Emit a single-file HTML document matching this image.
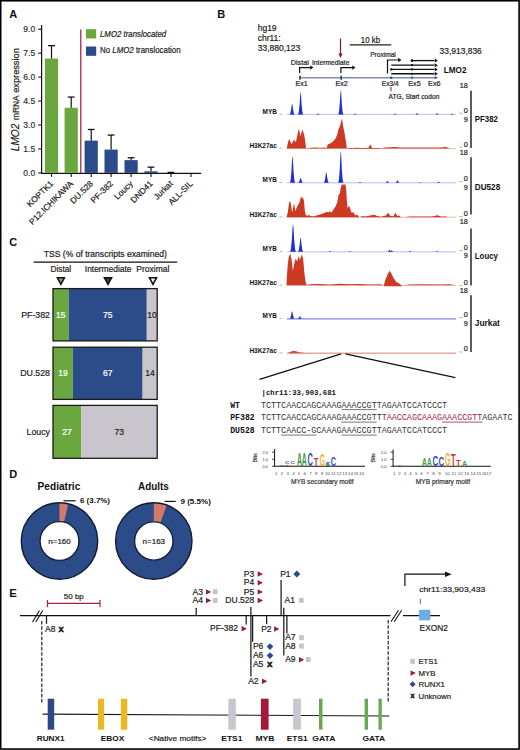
<!DOCTYPE html>
<html><head><meta charset="utf-8"><style>
html,body{margin:0;padding:0;background:#fff;width:520px;height:750px;overflow:hidden}
svg{display:block}
text{font-family:"Liberation Sans", sans-serif}
.mono{font-family:"Liberation Mono", monospace}
</style></head><body>
<svg width="520" height="750" viewBox="0 0 520 750">
<rect x="0" y="0" width="520" height="750" fill="#fff"/>
<text x="9.2" y="17.9" font-size="11" font-weight="bold" fill="#111" >A</text>
<line x1="41.6" y1="25" x2="41.6" y2="173.5" stroke="#111" stroke-width="1.2" />
<line x1="38.2" y1="172.9" x2="41.6" y2="172.9" stroke="#111" stroke-width="1.1" />
<text x="35.3" y="175.9" font-size="8.6" text-anchor="end" fill="#333" stroke="#333" stroke-width="0.2" >0.0</text>
<line x1="38.2" y1="148.95000000000002" x2="41.6" y2="148.95000000000002" stroke="#111" stroke-width="1.1" />
<text x="35.3" y="151.95000000000002" font-size="8.6" text-anchor="end" fill="#333" stroke="#333" stroke-width="0.2" >1.5</text>
<line x1="38.2" y1="125.0" x2="41.6" y2="125.0" stroke="#111" stroke-width="1.1" />
<text x="35.3" y="128.0" font-size="8.6" text-anchor="end" fill="#333" stroke="#333" stroke-width="0.2" >3.0</text>
<line x1="38.2" y1="101.05000000000001" x2="41.6" y2="101.05000000000001" stroke="#111" stroke-width="1.1" />
<text x="35.3" y="104.05000000000001" font-size="8.6" text-anchor="end" fill="#333" stroke="#333" stroke-width="0.2" >4.5</text>
<line x1="38.2" y1="77.10000000000001" x2="41.6" y2="77.10000000000001" stroke="#111" stroke-width="1.1" />
<text x="35.3" y="80.10000000000001" font-size="8.6" text-anchor="end" fill="#333" stroke="#333" stroke-width="0.2" >6.0</text>
<line x1="38.2" y1="53.150000000000006" x2="41.6" y2="53.150000000000006" stroke="#111" stroke-width="1.1" />
<text x="35.3" y="56.150000000000006" font-size="8.6" text-anchor="end" fill="#333" stroke="#333" stroke-width="0.2" >7.5</text>
<line x1="38.2" y1="29.200000000000017" x2="41.6" y2="29.200000000000017" stroke="#111" stroke-width="1.1" />
<text x="35.3" y="32.20000000000002" font-size="8.6" text-anchor="end" fill="#333" stroke="#333" stroke-width="0.2" >9.0</text>
<g transform="translate(18.5,152) rotate(-90)" fill="#222" stroke="#222" stroke-width="0.2"><text x="0.8" y="0" font-size="10.2" font-style="italic" textLength="27.6" lengthAdjust="spacingAndGlyphs">LMO2</text><text x="32.0" y="0" font-size="9.0" textLength="24.6" lengthAdjust="spacingAndGlyphs">mRNA</text><text x="59.2" y="0" font-size="9.2" textLength="44.6" lengthAdjust="spacingAndGlyphs">expression</text></g>
<line x1="41" y1="173.4" x2="201.2" y2="173.4" stroke="#111" stroke-width="1.2" />
<rect x="44.9" y="58.57866666666666" width="13.2" height="114.32133333333334" fill="#6aa83f" />
<line x1="51.5" y1="45.64566666666667" x2="51.5" y2="58.57866666666666" stroke="#111" stroke-width="1.2" />
<line x1="48.1" y1="45.64566666666667" x2="54.9" y2="45.64566666666667" stroke="#111" stroke-width="1.3" />
<line x1="51.5" y1="173.4" x2="51.5" y2="176.9" stroke="#111" stroke-width="1.1" />
<rect x="64.60000000000001" y="107.756" width="13.2" height="65.144" fill="#6aa83f" />
<line x1="71.2" y1="97.05833333333334" x2="71.2" y2="107.756" stroke="#111" stroke-width="1.2" />
<line x1="67.8" y1="97.05833333333334" x2="74.60000000000001" y2="97.05833333333334" stroke="#111" stroke-width="1.3" />
<line x1="71.2" y1="173.4" x2="71.2" y2="176.9" stroke="#111" stroke-width="1.1" />
<rect x="84.60000000000001" y="140.64733333333334" width="13.2" height="32.25266666666667" fill="#2b4b89" />
<line x1="91.2" y1="129.47066666666666" x2="91.2" y2="140.64733333333334" stroke="#111" stroke-width="1.2" />
<line x1="87.8" y1="129.47066666666666" x2="94.60000000000001" y2="129.47066666666666" stroke="#111" stroke-width="1.3" />
<line x1="91.2" y1="173.4" x2="91.2" y2="176.9" stroke="#111" stroke-width="1.1" />
<rect x="104.5" y="149.58866666666668" width="13.2" height="23.311333333333323" fill="#2b4b89" />
<line x1="111.1" y1="135.059" x2="111.1" y2="149.58866666666668" stroke="#111" stroke-width="1.2" />
<line x1="107.69999999999999" y1="135.059" x2="114.5" y2="135.059" stroke="#111" stroke-width="1.3" />
<line x1="111.1" y1="173.4" x2="111.1" y2="176.9" stroke="#111" stroke-width="1.1" />
<rect x="124.5" y="160.12666666666667" width="13.2" height="12.77333333333334" fill="#2b4b89" />
<line x1="131.1" y1="157.73166666666668" x2="131.1" y2="160.12666666666667" stroke="#111" stroke-width="1.2" />
<line x1="127.69999999999999" y1="157.73166666666668" x2="134.5" y2="157.73166666666668" stroke="#111" stroke-width="1.3" />
<line x1="131.1" y1="173.4" x2="131.1" y2="176.9" stroke="#111" stroke-width="1.1" />
<rect x="144.4" y="171.30333333333334" width="13.2" height="1.596666666666664" fill="#2b4b89" />
<line x1="151.0" y1="167.15200000000002" x2="151.0" y2="171.30333333333334" stroke="#111" stroke-width="1.2" />
<line x1="147.6" y1="167.15200000000002" x2="154.4" y2="167.15200000000002" stroke="#111" stroke-width="1.3" />
<line x1="151.0" y1="173.4" x2="151.0" y2="176.9" stroke="#111" stroke-width="1.1" />
<line x1="171.0" y1="172.421" x2="171.0" y2="172.9" stroke="#111" stroke-width="1.2" />
<line x1="167.6" y1="172.421" x2="174.4" y2="172.421" stroke="#111" stroke-width="1.3" />
<line x1="171.0" y1="173.4" x2="171.0" y2="176.9" stroke="#111" stroke-width="1.1" />
<line x1="191.0" y1="173.4" x2="191.0" y2="176.9" stroke="#111" stroke-width="1.1" />
<line x1="80.8" y1="29.5" x2="80.8" y2="172.9" stroke="#98183a" stroke-width="1.2" />
<rect x="86" y="29.2" width="10.2" height="9.3" fill="#6aa83f" />
<rect x="86" y="46.5" width="10.2" height="9.3" fill="#2b4b89" />
<text x="100.0" y="36.9" font-size="8.5" font-style="italic" fill="#222" stroke="#222" stroke-width="0.2" textLength="66.2" lengthAdjust="spacingAndGlyphs" >LMO2 translocated</text>
<text x="100.0" y="53.4" font-size="8.5" fill="#222" stroke="#222" stroke-width="0.2" textLength="80.6" lengthAdjust="spacingAndGlyphs">No <tspan font-style="italic">LMO2</tspan> translocation</text>
<text transform="translate(53.7,184.20000000000002) rotate(-45)" font-size="8.4" text-anchor="end" fill="#222" stroke="#222" stroke-width="0.2">KOPTK1</text>
<text transform="translate(73.63000000000001,184.20000000000002) rotate(-45)" font-size="8.4" text-anchor="end" fill="#222" stroke="#222" stroke-width="0.2">P12.ICHIKAWA</text>
<text transform="translate(93.56,184.20000000000002) rotate(-45)" font-size="8.4" text-anchor="end" fill="#222" stroke="#222" stroke-width="0.2">DU.528</text>
<text transform="translate(113.49,184.20000000000002) rotate(-45)" font-size="8.4" text-anchor="end" fill="#222" stroke="#222" stroke-width="0.2">PF-382</text>
<text transform="translate(133.42,184.20000000000002) rotate(-45)" font-size="8.4" text-anchor="end" fill="#222" stroke="#222" stroke-width="0.2">Loucy</text>
<text transform="translate(153.35,184.20000000000002) rotate(-45)" font-size="8.4" text-anchor="end" fill="#222" stroke="#222" stroke-width="0.2">DND41</text>
<text transform="translate(173.27999999999997,184.20000000000002) rotate(-45)" font-size="8.4" text-anchor="end" fill="#222" stroke="#222" stroke-width="0.2">Jurkat</text>
<text transform="translate(193.20999999999998,184.20000000000002) rotate(-45)" font-size="8.4" text-anchor="end" fill="#222" stroke="#222" stroke-width="0.2">ALL-SIL</text>
<text x="217.3" y="17.9" font-size="11" font-weight="bold" fill="#111" >B</text>
<text x="257.7" y="31.2" font-size="8.5" fill="#222" stroke="#222" stroke-width="0.2" >hg19</text>
<text x="257.7" y="41.0" font-size="8.5" fill="#222" stroke="#222" stroke-width="0.2" >chr11:</text>
<text x="257.7" y="50.8" font-size="8.5" fill="#222" stroke="#222" stroke-width="0.2" textLength="42.5" lengthAdjust="spacingAndGlyphs" >33,880,123</text>
<text x="439.6" y="53.7" font-size="8.2" fill="#222" stroke="#222" stroke-width="0.2" textLength="42.2" lengthAdjust="spacingAndGlyphs" >33,913,836</text>
<line x1="340.5" y1="38.5" x2="340.5" y2="55" stroke="#7e1a38" stroke-width="1.2" />
<path d="M340.5 57.9 L338.4 53.6 L342.6 53.6 Z" fill="#7e1a38"/>
<line x1="349.7" y1="44.9" x2="391.2" y2="44.9" stroke="#222" stroke-width="1.3" />
<text x="360.8" y="43.0" font-size="8.4" fill="#222" stroke="#222" stroke-width="0.2" textLength="19.3" lengthAdjust="spacingAndGlyphs" >10 kb</text>
<line x1="299.5" y1="77.8" x2="437.5" y2="77.8" stroke="#7d8db3" stroke-width="1.5" />
<line x1="300" y1="75.8" x2="300" y2="79.8" stroke="#333c55" stroke-width="1.6" />
<line x1="341.2" y1="75.8" x2="341.2" y2="79.8" stroke="#333c55" stroke-width="1.6" />
<text x="290.8" y="64.6" font-size="7.2" fill="#222" stroke="#222" stroke-width="0.2" >Distal</text>
<text x="312.0" y="64.6" font-size="7.2" fill="#222" stroke="#222" stroke-width="0.2" textLength="37.4" lengthAdjust="spacingAndGlyphs" >Intermediate</text>
<path d="M299.6 73 L299.6 67.6 L310.5 67.6" fill="none" stroke="#111" stroke-width="1.2"/>
<path d="M313.5 67.6 L310.2 65.39999999999999 L310.2 69.8 Z" fill="#111"/>
<path d="M340.9 73 L340.9 67.6 L352.5 67.6" fill="none" stroke="#111" stroke-width="1.2"/>
<path d="M355.5 67.6 L352.2 65.39999999999999 L352.2 69.8 Z" fill="#111"/>
<text x="370.2" y="57.3" font-size="7.2" fill="#222" stroke="#222" stroke-width="0.2" textLength="25.6" lengthAdjust="spacingAndGlyphs" >Proximal</text>
<path d="M387.5 73.4 L387.5 60.0 L398.5 60.0" fill="none" stroke="#111" stroke-width="1.2"/>
<path d="M401.5 60.0 L398.2 57.8 L398.2 62.2 Z" fill="#111"/>
<line x1="412" y1="60.6" x2="434.5" y2="60.6" stroke="#111" stroke-width="1.3" />
<path d="M437.8 60.6 L434.8 58.6 L434.8 62.6 Z" fill="#111"/>
<circle cx="412" cy="60.6" r="1.1" fill="#111"/>
<line x1="391.3" y1="65.2" x2="434.5" y2="65.2" stroke="#111" stroke-width="1.3" />
<path d="M437.8 65.2 L434.8 63.2 L434.8 67.2 Z" fill="#111"/>
<circle cx="412" cy="65.2" r="1.1" fill="#111"/>
<line x1="391.3" y1="69.4" x2="434.5" y2="69.4" stroke="#111" stroke-width="1.3" />
<path d="M437.8 69.4 L434.8 67.4 L434.8 71.4 Z" fill="#111"/>
<circle cx="412" cy="69.4" r="1.1" fill="#111"/>
<line x1="391.3" y1="73.75" x2="434.5" y2="73.75" stroke="#111" stroke-width="1.3" />
<path d="M437.8 73.75 L434.8 71.75 L434.8 75.75 Z" fill="#111"/>
<circle cx="412" cy="73.75" r="1.1" fill="#111"/>
<circle cx="412" cy="60.6" r="1.3" fill="#111"/>
<circle cx="391.3" cy="69.4" r="1.2" fill="#111"/>
<circle cx="391.3" cy="77.7" r="1.2" fill="#3a4a70"/>
<circle cx="412" cy="77.7" r="1.1" fill="#3a4a70"/>
<circle cx="435.5" cy="77.7" r="1.1" fill="#3a4a70"/>
<text x="301.6" y="86.3" font-size="7.2" text-anchor="middle" fill="#222" stroke="#222" stroke-width="0.2" >Ex1</text>
<text x="341.6" y="86.3" font-size="7.2" text-anchor="middle" fill="#222" stroke="#222" stroke-width="0.2" >Ex2</text>
<text x="390.3" y="86.2" font-size="7.2" text-anchor="middle" fill="#222" stroke="#222" stroke-width="0.2" textLength="17.0" lengthAdjust="spacingAndGlyphs" >Ex3/4</text>
<text x="414.5" y="86.2" font-size="7.2" text-anchor="middle" fill="#222" stroke="#222" stroke-width="0.2" >Ex5</text>
<text x="434.3" y="86.2" font-size="7.2" text-anchor="middle" fill="#222" stroke="#222" stroke-width="0.2" >Ex6</text>
<text x="443.8" y="73.4" font-size="8.2" font-weight="bold" fill="#111" textLength="22.7" lengthAdjust="spacingAndGlyphs" >LMO2</text>
<line x1="391.0" y1="87.0" x2="391.0" y2="91.2" stroke="#7e1a38" stroke-width="1.0" />
<text x="388.6" y="98.8" font-size="6.8" fill="#222" stroke="#222" stroke-width="0.2" textLength="50.8" lengthAdjust="spacingAndGlyphs" >ATG, Start codon</text>
<text x="276.8" y="113.5" font-size="6.4" text-anchor="end" font-weight="bold" fill="#111" >MYB</text>
<text x="276.8" y="148.0" font-size="6.4" text-anchor="end" font-weight="bold" fill="#111" textLength="27.4" lengthAdjust="spacingAndGlyphs" >H3K27ac</text>
<line x1="279.4" y1="114.10000000000001" x2="282.4" y2="114.10000000000001" stroke="#888" stroke-width="0.6" />
<line x1="279.4" y1="148.29999999999998" x2="282.4" y2="148.29999999999998" stroke="#888" stroke-width="0.6" />
<text x="467.9" y="88.0" font-size="7.3" text-anchor="end" fill="#222" stroke="#222" stroke-width="0.2" >18</text>
<text x="467.9" y="112.8" font-size="7.3" text-anchor="end" fill="#222" stroke="#222" stroke-width="0.2" >0</text>
<text x="467.9" y="121.7" font-size="7.3" text-anchor="end" fill="#222" stroke="#222" stroke-width="0.2" >9</text>
<text x="467.9" y="146.6" font-size="7.3" text-anchor="end" fill="#222" stroke="#222" stroke-width="0.2" >0</text>
<line x1="459.2" y1="113.2" x2="462.6" y2="113.2" stroke="#999" stroke-width="0.7" />
<line x1="459.2" y1="147.2" x2="462.6" y2="147.2" stroke="#999" stroke-width="0.7" />
<line x1="471" y1="90.7" x2="471" y2="148.1" stroke="#333" stroke-width="1.6" />
<text x="474.8" y="122.3" font-size="8.6" font-weight="bold" fill="#111" textLength="23.1" lengthAdjust="spacingAndGlyphs" >PF382</text>
<line x1="287" y1="114.4" x2="456" y2="114.4" stroke="#1f30d0" stroke-width="0.9" opacity="0.35"/>
<line x1="287" y1="148.6" x2="456" y2="148.6" stroke="#cc3a24" stroke-width="0.9" opacity="0.35"/>
<text x="276.8" y="181.9" font-size="6.4" text-anchor="end" font-weight="bold" fill="#111" >MYB</text>
<text x="276.8" y="216.6" font-size="6.4" text-anchor="end" font-weight="bold" fill="#111" textLength="27.4" lengthAdjust="spacingAndGlyphs" >H3K27ac</text>
<line x1="279.4" y1="182.5" x2="282.4" y2="182.5" stroke="#888" stroke-width="0.6" />
<line x1="279.4" y1="216.89999999999998" x2="282.4" y2="216.89999999999998" stroke="#888" stroke-width="0.6" />
<text x="467.9" y="155.3" font-size="7.3" text-anchor="end" fill="#222" stroke="#222" stroke-width="0.2" >18</text>
<text x="467.9" y="181.1" font-size="7.3" text-anchor="end" fill="#222" stroke="#222" stroke-width="0.2" >0</text>
<text x="467.9" y="189.5" font-size="7.3" text-anchor="end" fill="#222" stroke="#222" stroke-width="0.2" >9</text>
<text x="467.9" y="215.9" font-size="7.3" text-anchor="end" fill="#222" stroke="#222" stroke-width="0.2" >0</text>
<line x1="459.2" y1="181.5" x2="462.6" y2="181.5" stroke="#999" stroke-width="0.7" />
<line x1="459.2" y1="216.5" x2="462.6" y2="216.5" stroke="#999" stroke-width="0.7" />
<line x1="471" y1="157.2" x2="471" y2="214.4" stroke="#333" stroke-width="1.6" />
<text x="474.8" y="190.1" font-size="8.6" font-weight="bold" fill="#111" textLength="25.4" lengthAdjust="spacingAndGlyphs" >DU528</text>
<line x1="287" y1="182.8" x2="456" y2="182.8" stroke="#1f30d0" stroke-width="0.9" opacity="0.35"/>
<line x1="287" y1="217.2" x2="456" y2="217.2" stroke="#cc3a24" stroke-width="0.9" opacity="0.35"/>
<text x="276.8" y="250.9" font-size="6.4" text-anchor="end" font-weight="bold" fill="#111" >MYB</text>
<text x="276.8" y="284.7" font-size="6.4" text-anchor="end" font-weight="bold" fill="#111" textLength="27.4" lengthAdjust="spacingAndGlyphs" >H3K27ac</text>
<line x1="279.4" y1="251.5" x2="282.4" y2="251.5" stroke="#888" stroke-width="0.6" />
<line x1="279.4" y1="285.0" x2="282.4" y2="285.0" stroke="#888" stroke-width="0.6" />
<text x="467.9" y="224.0" font-size="7.3" text-anchor="end" fill="#222" stroke="#222" stroke-width="0.2" >18</text>
<text x="467.9" y="250.2" font-size="7.3" text-anchor="end" fill="#222" stroke="#222" stroke-width="0.2" >0</text>
<text x="467.9" y="258.0" font-size="7.3" text-anchor="end" fill="#222" stroke="#222" stroke-width="0.2" >9</text>
<text x="467.9" y="284.8" font-size="7.3" text-anchor="end" fill="#222" stroke="#222" stroke-width="0.2" >0</text>
<line x1="459.2" y1="250.6" x2="462.6" y2="250.6" stroke="#999" stroke-width="0.7" />
<line x1="459.2" y1="285.40000000000003" x2="462.6" y2="285.40000000000003" stroke="#999" stroke-width="0.7" />
<line x1="471" y1="228.4" x2="471" y2="285.6" stroke="#333" stroke-width="1.6" />
<text x="474.8" y="258.6" font-size="8.6" font-weight="bold" fill="#111" textLength="23.2" lengthAdjust="spacingAndGlyphs" >Loucy</text>
<line x1="287" y1="251.8" x2="456" y2="251.8" stroke="#1f30d0" stroke-width="0.9" opacity="0.35"/>
<line x1="287" y1="285.3" x2="456" y2="285.3" stroke="#cc3a24" stroke-width="0.9" opacity="0.35"/>
<text x="276.8" y="318.0" font-size="6.4" text-anchor="end" font-weight="bold" fill="#111" >MYB</text>
<text x="276.8" y="352.59999999999997" font-size="6.4" text-anchor="end" font-weight="bold" fill="#111" textLength="27.4" lengthAdjust="spacingAndGlyphs" >H3K27ac</text>
<line x1="279.4" y1="318.59999999999997" x2="282.4" y2="318.59999999999997" stroke="#888" stroke-width="0.6" />
<line x1="279.4" y1="352.9" x2="282.4" y2="352.9" stroke="#888" stroke-width="0.6" />
<text x="467.9" y="293.2" font-size="7.3" text-anchor="end" fill="#222" stroke="#222" stroke-width="0.2" >18</text>
<text x="467.9" y="317.1" font-size="7.3" text-anchor="end" fill="#222" stroke="#222" stroke-width="0.2" >0</text>
<text x="467.9" y="325.7" font-size="7.3" text-anchor="end" fill="#222" stroke="#222" stroke-width="0.2" >9</text>
<text x="467.9" y="351.4" font-size="7.3" text-anchor="end" fill="#222" stroke="#222" stroke-width="0.2" >0</text>
<line x1="459.2" y1="317.5" x2="462.6" y2="317.5" stroke="#999" stroke-width="0.7" />
<line x1="459.2" y1="352.0" x2="462.6" y2="352.0" stroke="#999" stroke-width="0.7" />
<line x1="471" y1="295.3" x2="471" y2="351.9" stroke="#333" stroke-width="1.6" />
<text x="474.8" y="326.3" font-size="8.6" font-weight="bold" fill="#111" textLength="25.0" lengthAdjust="spacingAndGlyphs" >Jurkat</text>
<line x1="287" y1="318.9" x2="456" y2="318.9" stroke="#1f30d0" stroke-width="0.9" opacity="0.35"/>
<line x1="287" y1="353.2" x2="456" y2="353.2" stroke="#cc3a24" stroke-width="0.9" opacity="0.35"/>
<path d="M289.57 114.40 L290.33 113.13 L291.09 109.63 L291.72 105.07 L292.10 103.80 L292.48 105.07 L293.11 109.63 L293.87 113.13 L294.63 114.40 Z" fill="#1f30d0"/>
<path d="M298.07 114.40 L298.83 111.68 L299.59 104.19 L300.22 94.42 L300.60 91.70 L300.98 94.42 L301.61 104.19 L302.37 111.68 L303.13 114.40 Z" fill="#1f30d0"/>
<path d="M338.27 114.40 L339.03 111.45 L339.79 103.33 L340.42 92.75 L340.80 89.80 L341.18 92.75 L341.81 103.33 L342.57 111.45 L343.33 114.40 Z" fill="#1f30d0"/>
<path d="M316.27 114.40 L316.79 114.28 L317.31 113.95 L317.74 113.52 L318.00 113.40 L318.26 113.52 L318.69 113.95 L319.21 114.28 L319.73 114.40 Z" fill="#1f30d0"/>
<path d="M353.27 114.40 L353.79 114.30 L354.31 114.04 L354.74 113.70 L355.00 113.60 L355.26 113.70 L355.69 114.04 L356.21 114.30 L356.73 114.40 Z" fill="#1f30d0"/>
<path d="M393.27 114.40 L393.79 114.29 L394.31 114.00 L394.74 113.61 L395.00 113.50 L395.26 113.61 L395.69 114.00 L396.21 114.29 L396.73 114.40 Z" fill="#1f30d0"/>
<path d="M415.27 114.40 L415.79 114.26 L416.31 113.86 L416.74 113.34 L417.00 113.20 L417.26 113.34 L417.69 113.86 L418.21 114.26 L418.73 114.40 Z" fill="#1f30d0"/>
<path d="M435.27 114.40 L435.79 114.23 L436.31 113.77 L436.74 113.17 L437.00 113.00 L437.26 113.17 L437.69 113.77 L438.21 114.23 L438.73 114.40 Z" fill="#1f30d0"/>
<path d="M450.27 114.40 L450.79 114.30 L451.31 114.04 L451.74 113.70 L452.00 113.60 L452.26 113.70 L452.69 114.04 L453.21 114.30 L453.73 114.40 Z" fill="#1f30d0"/>
<path d="M286.80 148.60 L287.60 144.00 L288.50 140.50 L289.30 139.10 L290.20 141.50 L291.60 144.20 L292.80 141.50 L294.20 139.70 L295.20 141.80 L296.00 141.60 L297.00 137.00 L298.20 131.00 L299.00 128.80 L299.80 133.00 L300.50 136.60 L301.30 133.00 L302.40 129.40 L303.30 132.00 L304.30 135.30 L305.20 141.00 L306.20 148.60 Z" fill="#cc3a24"/>
<path d="M306.20 148.60 L310.00 147.80 L315.00 147.50 L320.00 147.70 L324.00 147.60 L326.50 148.10 L327.80 144.40 L330.00 143.40 L332.20 142.30 L334.00 140.50 L336.00 137.80 L337.40 134.00 L338.60 129.00 L339.80 126.40 L340.90 122.60 L342.10 118.20 L343.00 125.20 L343.80 129.50 L344.70 134.00 L345.50 139.00 L346.20 142.90 L346.80 148.60 Z" fill="#cc3a24"/>
<path d="M346.35 148.65 L349.23 147.88 L353.08 148.08 L356.92 147.69 L360.77 148.08 L364.62 147.88 L368.46 147.69 L369.62 145.77 L370.38 144.23 L371.15 145.77 L371.92 148.08 L376.15 147.88 L380.00 148.08 L380.00 148.85 Z" fill="#cc3a24"/>
<path d="M380.00 148.60 L385.00 147.40 L395.00 147.00 L400.00 147.60 L420.00 147.40 L440.00 147.60 L446.00 147.00 L450.00 148.60 Z" fill="#cc3a24"/>
<path d="M289.97 182.80 L290.73 179.56 L291.49 170.65 L292.12 159.04 L292.50 155.80 L292.88 159.04 L293.51 170.65 L294.27 179.56 L295.03 182.80 Z" fill="#1f30d0"/>
<path d="M298.07 182.80 L298.83 182.21 L299.59 180.59 L300.22 178.49 L300.60 177.90 L300.98 178.49 L301.61 180.59 L302.37 182.21 L303.13 182.80 Z" fill="#1f30d0"/>
<path d="M323.77 182.80 L324.53 181.52 L325.29 177.99 L325.92 173.38 L326.30 172.10 L326.68 173.38 L327.31 177.99 L328.07 181.52 L328.83 182.80 Z" fill="#1f30d0"/>
<path d="M338.27 182.80 L339.03 178.96 L339.79 168.40 L340.42 154.64 L340.80 150.80 L341.18 154.64 L341.81 168.40 L342.57 178.96 L343.33 182.80 Z" fill="#1f30d0"/>
<path d="M385.20 182.80 L385.89 182.58 L386.58 181.99 L387.15 181.22 L387.50 181.00 L387.85 181.22 L388.42 181.99 L389.11 182.58 L389.80 182.80 Z" fill="#1f30d0"/>
<path d="M395.20 182.80 L395.89 182.50 L396.58 181.68 L397.15 180.60 L397.50 180.30 L397.85 180.60 L398.42 181.68 L399.11 182.50 L399.80 182.80 Z" fill="#1f30d0"/>
<path d="M436.40 182.80 L437.09 182.64 L437.78 182.22 L438.35 181.66 L438.70 181.50 L439.05 181.66 L439.62 182.22 L440.31 182.64 L441.00 182.80 Z" fill="#1f30d0"/>
<path d="M357.70 182.80 L358.39 182.70 L359.08 182.44 L359.65 182.10 L360.00 182.00 L360.35 182.10 L360.92 182.44 L361.61 182.70 L362.30 182.80 Z" fill="#1f30d0"/>
<path d="M417.70 182.80 L418.39 182.73 L419.08 182.53 L419.65 182.27 L420.00 182.20 L420.35 182.27 L420.92 182.53 L421.61 182.73 L422.30 182.80 Z" fill="#1f30d0"/>
<path d="M286.50 217.30 L287.80 212.50 L289.10 202.30 L290.10 201.00 L291.00 204.80 L292.20 212.50 L293.50 205.50 L294.20 203.60 L295.20 211.20 L296.70 207.40 L298.20 204.80 L299.50 202.30 L301.10 196.00 L302.00 198.50 L303.00 197.20 L304.00 201.00 L304.90 211.20 L305.80 215.20 L307.50 215.60 L309.40 215.20 L311.30 216.30 L314.50 216.20 L317.00 215.20 L319.50 214.70 L322.00 213.70 L324.60 213.10 L326.50 211.80 L328.40 212.50 L329.70 211.20 L331.60 212.50 L334.10 208.60 L335.40 206.70 L337.30 202.30 L338.60 194.70 L339.80 193.40 L340.90 187.10 L341.70 184.50 L345.50 184.50 L346.20 189.60 L346.80 199.80 L347.50 208.60 L348.70 206.10 L349.70 207.10 L350.60 210.00 L351.60 212.80 L353.50 212.20 L355.40 215.40 L357.30 214.70 L359.20 217.30 L363.00 216.00 L364.90 216.50 L370.00 215.40 L374.50 214.70 L377.00 216.00 L380.80 216.80 L385.90 215.40 L388.20 212.80 L390.30 216.00 L393.50 216.30 L395.40 212.80 L397.30 216.00 L399.20 215.40 L401.10 217.30 Z" fill="#cc3a24"/>
<path d="M404.00 217.20 L410.00 216.40 L420.00 216.60 L432.00 216.40 L437.50 215.20 L441.00 216.40 L446.00 216.40 L448.00 217.20 Z" fill="#cc3a24"/>
<path d="M290.12 251.80 L290.99 248.43 L291.85 239.16 L292.57 227.07 L293.00 223.70 L293.43 227.07 L294.15 239.16 L295.01 248.43 L295.88 251.80 Z" fill="#1f30d0"/>
<path d="M298.07 251.80 L298.83 250.06 L299.59 245.28 L300.22 239.04 L300.60 237.30 L300.98 239.04 L301.61 245.28 L302.37 250.06 L303.13 251.80 Z" fill="#1f30d0"/>
<path d="M387.20 251.80 L387.89 251.56 L388.58 250.90 L389.15 250.04 L389.50 249.80 L389.85 250.04 L390.42 250.90 L391.11 251.56 L391.80 251.80 Z" fill="#1f30d0"/>
<path d="M389.20 251.80 L389.89 251.62 L390.58 251.12 L391.15 250.48 L391.50 250.30 L391.85 250.48 L392.42 251.12 L393.11 251.62 L393.80 251.80 Z" fill="#1f30d0"/>
<path d="M327.70 251.80 L328.39 251.70 L329.08 251.44 L329.65 251.10 L330.00 251.00 L330.35 251.10 L330.92 251.44 L331.61 251.70 L332.30 251.80 Z" fill="#1f30d0"/>
<path d="M347.70 251.80 L348.39 251.73 L349.08 251.53 L349.65 251.27 L350.00 251.20 L350.35 251.27 L350.92 251.53 L351.61 251.73 L352.30 251.80 Z" fill="#1f30d0"/>
<path d="M407.70 251.80 L408.39 251.70 L409.08 251.44 L409.65 251.10 L410.00 251.00 L410.35 251.10 L410.92 251.44 L411.61 251.70 L412.30 251.80 Z" fill="#1f30d0"/>
<path d="M434.70 251.80 L435.39 251.70 L436.08 251.44 L436.65 251.10 L437.00 251.00 L437.35 251.10 L437.92 251.44 L438.61 251.70 L439.30 251.80 Z" fill="#1f30d0"/>
<path d="M286.50 285.30 L286.80 278.00 L287.70 264.80 L288.80 257.00 L290.30 253.60 L291.50 259.20 L292.20 265.00 L292.90 270.80 L293.60 267.00 L294.30 263.80 L295.70 258.20 L297.10 261.50 L298.70 255.90 L300.00 260.10 L301.70 254.50 L303.10 258.20 L303.70 265.00 L304.30 272.20 L305.50 281.60 L306.40 284.40 L307.00 285.30 Z" fill="#cc3a24"/>
<path d="M383.75 286.30 L385.00 280.80 L387.50 274.55 L389.50 270.80 L391.25 273.30 L393.75 278.30 L396.25 282.05 L398.75 283.30 L401.25 285.30 L402.50 286.30 Z" fill="#cc3a24"/>
<path d="M306.00 285.30 L310.00 284.30 L320.00 284.00 L330.00 284.50 L340.00 283.80 L350.00 284.30 L360.00 284.10 L370.00 284.50 L380.00 284.30 L384.00 285.30 L403.00 285.30 L410.00 284.50 L420.00 284.30 L440.00 284.50 L450.00 284.30 L455.00 285.30 Z" fill="#cc3a24"/>
<path d="M289.57 318.90 L290.33 317.98 L291.09 315.44 L291.72 312.12 L292.10 311.20 L292.48 312.12 L293.11 315.44 L293.87 317.98 L294.63 318.90 Z" fill="#1f30d0"/>
<path d="M297.27 318.90 L298.03 318.59 L298.79 317.73 L299.42 316.61 L299.80 316.30 L300.18 316.61 L300.81 317.73 L301.57 318.59 L302.33 318.90 Z" fill="#1f30d0"/>
<line x1="287" y1="318.9" x2="456" y2="318.9" stroke="#6c7ade" stroke-width="0.85" />
<path d="M287.00 353.20 L290.00 352.00 L293.00 351.00 L296.00 351.20 L299.00 352.20 L303.00 352.70 L306.00 353.20 Z" fill="#cc3a24"/>
<line x1="287" y1="353.2" x2="456" y2="353.2" stroke="#d9958a" stroke-width="0.9" />
<line x1="341.1" y1="353.9" x2="259.5" y2="379.4" stroke="#111" stroke-width="1.2" />
<line x1="345.5" y1="353.9" x2="455.4" y2="377.6" stroke="#111" stroke-width="1.2" />
<text x="261.5" y="394.6" font-size="7.35" font-weight="bold" fill="#111" textLength="74.5" lengthAdjust="spacingAndGlyphs" class="mono">|chr11:33,903,681</text>
<text x="230.2" y="407.9" font-size="8.2" font-weight="bold" fill="#111" textLength="9.8" lengthAdjust="spacingAndGlyphs" class="mono">WT</text>
<text x="230.2" y="420.4" font-size="8.2" font-weight="bold" fill="#111" textLength="24.5" lengthAdjust="spacingAndGlyphs" class="mono">PF382</text>
<text x="230.2" y="433.4" font-size="8.2" font-weight="bold" fill="#111" textLength="24.5" lengthAdjust="spacingAndGlyphs" class="mono">DU528</text>
<text class="mono" x="261.0" y="407.9" font-size="8.4" textLength="186.11" lengthAdjust="spacingAndGlyphs"><tspan fill="#333">TCTTCAACCAGCAAAGAAACCGTTAGAATCCATCCCT</tspan></text>
<line x1="341.48" y1="409.6" x2="376.69" y2="409.6" stroke="#555" stroke-width="0.8" />
<text class="mono" x="261.0" y="420.4" font-size="8.4" textLength="251.50" lengthAdjust="spacingAndGlyphs"><tspan fill="#333">TCTTCAACCAGCAAAGAAACCGTT</tspan><tspan fill="#a3203f">TAACCAGCAAAGAAACCGTT</tspan><tspan fill="#333">AGAATC</tspan></text>
<line x1="341.48" y1="422.1" x2="376.69" y2="422.1" stroke="#555" stroke-width="0.8" />
<line x1="442.08000000000004" y1="422.1" x2="482.32000000000005" y2="422.1" stroke="#a3203f" stroke-width="0.8" />
<text class="mono" x="261.0" y="433.4" font-size="8.4" textLength="186.11" lengthAdjust="spacingAndGlyphs"><tspan fill="#333">TCTTCAACC-GCAAAGAAACCGTTAGAATCCATCCCT</tspan></text>
<line x1="281.12" y1="435.1" x2="316.33" y2="435.1" stroke="#555" stroke-width="0.8" />
<line x1="341.48" y1="435.1" x2="376.69" y2="435.1" stroke="#555" stroke-width="0.8" />
<text transform="translate(256.6,457.9) rotate(-90)" font-size="5.6" text-anchor="middle" fill="#333" stroke="#333" stroke-width="0.15">Bits</text>
<line x1="274.6" y1="449" x2="274.6" y2="466.3" stroke="#111" stroke-width="1.0" />
<line x1="274.1" y1="466.3" x2="365" y2="466.3" stroke="#111" stroke-width="1.1" />
<line x1="272.1" y1="466.3" x2="274.6" y2="466.3" stroke="#111" stroke-width="0.8" />
<text x="268.0" y="467.7" font-size="4.0" text-anchor="end" fill="#333" >0.0</text>
<line x1="272.1" y1="459.25" x2="274.6" y2="459.25" stroke="#111" stroke-width="0.8" />
<text x="268.0" y="460.65" font-size="4.0" text-anchor="end" fill="#333" >1.0</text>
<line x1="272.1" y1="452.2" x2="274.6" y2="452.2" stroke="#111" stroke-width="0.8" />
<text x="268.0" y="453.59999999999997" font-size="4.0" text-anchor="end" fill="#333" >2.0</text>
<text x="276.3" y="474.6" font-size="4.4" text-anchor="middle" fill="#444" >1</text>
<text x="282.0" y="474.6" font-size="4.4" text-anchor="middle" fill="#444" >2</text>
<text x="287.7" y="474.6" font-size="4.4" text-anchor="middle" fill="#444" >3</text>
<text x="293.40000000000003" y="474.6" font-size="4.4" text-anchor="middle" fill="#444" >4</text>
<text x="299.1" y="474.6" font-size="4.4" text-anchor="middle" fill="#444" >5</text>
<text x="304.8" y="474.6" font-size="4.4" text-anchor="middle" fill="#444" >6</text>
<text x="310.5" y="474.6" font-size="4.4" text-anchor="middle" fill="#444" >7</text>
<text x="316.2" y="474.6" font-size="4.4" text-anchor="middle" fill="#444" >8</text>
<text x="321.90000000000003" y="474.6" font-size="4.4" text-anchor="middle" fill="#444" >9</text>
<text x="327.6" y="474.6" font-size="4.4" text-anchor="middle" fill="#444" >10</text>
<text x="333.3" y="474.6" font-size="4.4" text-anchor="middle" fill="#444" >11</text>
<text x="339.0" y="474.6" font-size="4.4" text-anchor="middle" fill="#444" >12</text>
<text x="344.70000000000005" y="474.6" font-size="4.4" text-anchor="middle" fill="#444" >13</text>
<text x="350.40000000000003" y="474.6" font-size="4.4" text-anchor="middle" fill="#444" >14</text>
<text x="356.1" y="474.6" font-size="4.4" text-anchor="middle" fill="#444" >15</text>
<text x="361.8" y="474.6" font-size="4.4" text-anchor="middle" fill="#444" >16</text>
<text x="0" y="0" font-size="10" font-weight="bold" fill="#3552b8" text-anchor="middle" transform="translate(282.00,465.80) scale(0.637,0.164)">C</text>
<text x="0" y="0" font-size="10" font-weight="bold" fill="#d6342c" text-anchor="middle" transform="translate(287.30,465.80) scale(0.753,0.219)">T</text>
<text x="0" y="0" font-size="10" font-weight="bold" fill="#f0b232" text-anchor="middle" transform="translate(292.80,465.80) scale(0.617,0.219)">G</text>
<text x="0" y="0" font-size="10" font-weight="bold" fill="#3f9a48" text-anchor="middle" transform="translate(299.50,465.80) scale(0.693,1.890)">A</text>
<text x="0" y="0" font-size="10" font-weight="bold" fill="#3f9a48" text-anchor="middle" transform="translate(304.30,465.80) scale(0.693,1.890)">A</text>
<text x="0" y="0" font-size="10" font-weight="bold" fill="#3552b8" text-anchor="middle" transform="translate(310.20,465.80) scale(0.748,1.808)">C</text>
<text x="0" y="0" font-size="10" font-weight="bold" fill="#d6342c" text-anchor="middle" transform="translate(316.20,465.80) scale(0.786,1.027)">T</text>
<text x="0" y="0" font-size="10" font-weight="bold" fill="#f0b232" text-anchor="middle" transform="translate(322.40,465.80) scale(0.668,1.685)">G</text>
<text x="0" y="0" font-size="10" font-weight="bold" fill="#3552b8" text-anchor="middle" transform="translate(328.00,465.80) scale(0.665,0.479)">C</text>
<text x="0" y="0" font-size="10" font-weight="bold" fill="#3f9a48" text-anchor="middle" transform="translate(328.00,465.80) scale(0.665,0.301)">A</text>
<text x="0" y="0" font-size="10" font-weight="bold" fill="#3552b8" text-anchor="middle" transform="translate(333.50,465.80) scale(0.748,1.342)">C</text>
<text x="0" y="0" font-size="10" font-weight="bold" fill="#f0b232" text-anchor="middle" transform="translate(338.60,465.80) scale(0.637,0.219)">A</text>
<text x="0" y="0" font-size="10" font-weight="bold" fill="#3552b8" text-anchor="middle" transform="translate(287.30,464.00) scale(0.637,0.411)">C</text>
<text x="0" y="0" font-size="10" font-weight="bold" fill="#3552b8" text-anchor="middle" transform="translate(292.80,464.00) scale(0.665,0.438)">C</text>
<text x="291.0" y="484.2" font-size="6.6" fill="#333" stroke="#333" stroke-width="0.2" >MYB secondary motif</text>
<text transform="translate(375.1,457.9) rotate(-90)" font-size="5.6" text-anchor="middle" fill="#333" stroke="#333" stroke-width="0.15">Bits</text>
<line x1="393.1" y1="449.5" x2="393.1" y2="466.3" stroke="#111" stroke-width="1.0" />
<line x1="392.6" y1="466.3" x2="490.8" y2="466.3" stroke="#111" stroke-width="1.1" />
<line x1="390.6" y1="466.3" x2="393.1" y2="466.3" stroke="#111" stroke-width="0.8" />
<text x="386.5" y="467.7" font-size="4.0" text-anchor="end" fill="#333" >0.0</text>
<line x1="390.6" y1="459.25" x2="393.1" y2="459.25" stroke="#111" stroke-width="0.8" />
<text x="386.5" y="460.65" font-size="4.0" text-anchor="end" fill="#333" >1.0</text>
<line x1="390.6" y1="452.2" x2="393.1" y2="452.2" stroke="#111" stroke-width="0.8" />
<text x="386.5" y="453.59999999999997" font-size="4.0" text-anchor="end" fill="#333" >2.0</text>
<text x="394.3" y="474.6" font-size="4.4" text-anchor="middle" fill="#444" >1</text>
<text x="399.6" y="474.6" font-size="4.4" text-anchor="middle" fill="#444" >2</text>
<text x="404.9" y="474.6" font-size="4.4" text-anchor="middle" fill="#444" >3</text>
<text x="410.5" y="474.6" font-size="4.4" text-anchor="middle" fill="#444" >4</text>
<text x="416.2" y="474.6" font-size="4.4" text-anchor="middle" fill="#444" >5</text>
<text x="421.5" y="474.6" font-size="4.4" text-anchor="middle" fill="#444" >6</text>
<text x="427.6" y="474.6" font-size="4.4" text-anchor="middle" fill="#444" >7</text>
<text x="433.5" y="474.6" font-size="4.4" text-anchor="middle" fill="#444" >8</text>
<text x="439.5" y="474.6" font-size="4.4" text-anchor="middle" fill="#444" >9</text>
<text x="447.3" y="474.6" font-size="4.4" text-anchor="middle" fill="#444" >10</text>
<text x="453.8" y="474.6" font-size="4.4" text-anchor="middle" fill="#444" >11</text>
<text x="460.3" y="474.6" font-size="4.4" text-anchor="middle" fill="#444" >12</text>
<text x="466.6" y="474.6" font-size="4.4" text-anchor="middle" fill="#444" >13</text>
<text x="472.9" y="474.6" font-size="4.4" text-anchor="middle" fill="#444" >14</text>
<text x="478.7" y="474.6" font-size="4.4" text-anchor="middle" fill="#444" >15</text>
<text x="484.1" y="474.6" font-size="4.4" text-anchor="middle" fill="#444" >16</text>
<text x="488.9" y="474.6" font-size="4.4" text-anchor="middle" fill="#444" >17</text>
<text x="0" y="0" font-size="10" font-weight="bold" fill="#d6342c" text-anchor="middle" transform="translate(399.80,465.80) scale(0.655,0.137)">T</text>
<text x="0" y="0" font-size="10" font-weight="bold" fill="#3f9a48" text-anchor="middle" transform="translate(424.50,465.80) scale(0.665,1.068)">A</text>
<text x="0" y="0" font-size="10" font-weight="bold" fill="#3f9a48" text-anchor="middle" transform="translate(429.40,465.80) scale(0.665,1.068)">A</text>
<text x="0" y="0" font-size="10" font-weight="bold" fill="#3552b8" text-anchor="middle" transform="translate(435.30,465.80) scale(0.803,1.534)">C</text>
<text x="0" y="0" font-size="10" font-weight="bold" fill="#3552b8" text-anchor="middle" transform="translate(441.30,465.80) scale(0.803,1.301)">C</text>
<text x="0" y="0" font-size="10" font-weight="bold" fill="#f0b232" text-anchor="middle" transform="translate(447.80,465.80) scale(0.694,1.808)">G</text>
<text x="0" y="0" font-size="10" font-weight="bold" fill="#d6342c" text-anchor="middle" transform="translate(453.20,465.80) scale(0.753,1.726)">T</text>
<text x="0" y="0" font-size="10" font-weight="bold" fill="#d6342c" text-anchor="middle" transform="translate(458.30,465.80) scale(0.753,0.890)">T</text>
<text x="0" y="0" font-size="10" font-weight="bold" fill="#3f9a48" text-anchor="middle" transform="translate(464.60,465.80) scale(0.720,0.795)">A</text>
<text x="415.8" y="484.2" font-size="6.6" fill="#333" stroke="#333" stroke-width="0.2" >MYB primary motif</text>
<text x="9.2" y="246.3" font-size="11" font-weight="bold" fill="#111" >C</text>
<text x="43.8" y="256.9" font-size="8.2" fill="#222" stroke="#222" stroke-width="0.2" textLength="123.1" lengthAdjust="spacingAndGlyphs" >TSS (% of transcripts examined)</text>
<line x1="33.6" y1="262.1" x2="177.2" y2="262.1" stroke="#111" stroke-width="1.3" />
<text x="50.4" y="272.3" font-size="8.2" fill="#222" stroke="#222" stroke-width="0.2" textLength="20.8" lengthAdjust="spacingAndGlyphs" >Distal</text>
<text x="84.8" y="272.3" font-size="8.2" fill="#222" stroke="#222" stroke-width="0.2" textLength="46.7" lengthAdjust="spacingAndGlyphs" >Intermediate</text>
<text x="136.2" y="272.3" font-size="8.2" fill="#222" stroke="#222" stroke-width="0.2" textLength="33.2" lengthAdjust="spacingAndGlyphs" >Proximal</text>
<path d="M57.4 277.8 L64.4 277.8 L60.9 284.40000000000003 Z" fill="#86a86a" stroke="#111" stroke-width="1.6" stroke-linejoin="miter"/>
<path d="M104.5 277.8 L111.5 277.8 L108.0 284.40000000000003 Z" fill="#34465e" stroke="#111" stroke-width="1.6" stroke-linejoin="miter"/>
<path d="M149.5 277.8 L156.5 277.8 L153.0 284.40000000000003 Z" fill="#f2f2f2" stroke="#111" stroke-width="1.6" stroke-linejoin="miter"/>
<rect x="53.0" y="288.6" width="15.629999999999997" height="52.299999999999955" fill="#6aa83f" />
<text x="60.815" y="317.85" font-size="8.5" text-anchor="middle" fill="#fff" stroke="#fff" stroke-width="0.2" >15</text>
<rect x="68.63" y="288.6" width="78.14999999999999" height="52.299999999999955" fill="#2b4b89" />
<text x="107.70499999999998" y="317.85" font-size="8.5" text-anchor="middle" fill="#fff" stroke="#fff" stroke-width="0.2" >75</text>
<rect x="146.77999999999997" y="288.6" width="10.42" height="52.299999999999955" fill="#c8c6cc" />
<text x="151.98999999999998" y="317.85" font-size="8.5" text-anchor="middle" fill="#222" stroke="#222" stroke-width="0.2" >10</text>
<rect x="53.0" y="288.6" width="104.19999999999999" height="52.299999999999955" fill="none" stroke="#1a1a1a" stroke-width="1.3"/>
<text x="50.0" y="317.85" font-size="8.8" text-anchor="end" fill="#222" stroke="#222" stroke-width="0.2" >PF-382</text>
<rect x="53.0" y="347.2" width="19.798" height="52.19999999999999" fill="#6aa83f" />
<text x="62.899" y="376.4" font-size="8.5" text-anchor="middle" fill="#fff" stroke="#fff" stroke-width="0.2" >19</text>
<rect x="72.798" y="347.2" width="69.814" height="52.19999999999999" fill="#2b4b89" />
<text x="107.705" y="376.4" font-size="8.5" text-anchor="middle" fill="#fff" stroke="#fff" stroke-width="0.2" >67</text>
<rect x="142.612" y="347.2" width="14.587999999999997" height="52.19999999999999" fill="#c8c6cc" />
<text x="149.906" y="376.4" font-size="8.5" text-anchor="middle" fill="#222" stroke="#222" stroke-width="0.2" >14</text>
<rect x="53.0" y="347.2" width="104.19999999999999" height="52.19999999999999" fill="none" stroke="#1a1a1a" stroke-width="1.3"/>
<text x="50.0" y="376.4" font-size="8.8" text-anchor="end" fill="#222" stroke="#222" stroke-width="0.2" >DU.528</text>
<rect x="53.0" y="405.4" width="28.133999999999997" height="52.900000000000034" fill="#6aa83f" />
<text x="67.067" y="434.95000000000005" font-size="8.5" text-anchor="middle" fill="#fff" stroke="#fff" stroke-width="0.2" >27</text>
<rect x="81.134" y="405.4" width="76.06599999999999" height="52.900000000000034" fill="#c8c6cc" />
<text x="119.167" y="434.95000000000005" font-size="8.5" text-anchor="middle" fill="#222" stroke="#222" stroke-width="0.2" >73</text>
<rect x="53.0" y="405.4" width="104.19999999999999" height="52.900000000000034" fill="none" stroke="#1a1a1a" stroke-width="1.3"/>
<text x="50.0" y="434.95000000000005" font-size="8.8" text-anchor="end" fill="#222" stroke="#222" stroke-width="0.2" >Loucy</text>
<text x="9.2" y="478.4" font-size="11" font-weight="bold" fill="#111" >D</text>
<text x="37.6" y="489.9" font-size="10" font-weight="bold" fill="#111" textLength="42.7" lengthAdjust="spacingAndGlyphs" >Pediatric</text>
<text x="138.0" y="489.9" font-size="10" font-weight="bold" fill="#111" textLength="30.8" lengthAdjust="spacingAndGlyphs" >Adults</text>
<circle cx="59.5" cy="541.0" r="28.8" fill="none" stroke="#2b4b89" stroke-width="18.800000000000004"/>
<path d="M59.5 502.8 A38.2 38.2 0 0 1 68.30 503.83 L63.97 522.12 A19.4 19.4 0 0 0 59.5 521.6 Z" fill="#d37a6a"/>
<circle cx="59.5" cy="541.0" r="38.2" fill="none" stroke="#141c30" stroke-width="1.4"/>
<circle cx="59.5" cy="541.0" r="19.4" fill="#fff" stroke="#141c30" stroke-width="1.3"/>
<text x="59.5" y="543.9" font-size="8.0" text-anchor="middle" fill="#222" stroke="#222" stroke-width="0.2" >n=160</text>
<circle cx="153.8" cy="541.0" r="28.700000000000003" fill="none" stroke="#2b4b89" stroke-width="19.000000000000004"/>
<path d="M153.8 502.8 A38.2 38.2 0 0 1 166.74 505.06 L160.30 522.94 A19.2 19.2 0 0 0 153.8 521.8 Z" fill="#d37a6a"/>
<circle cx="153.8" cy="541.0" r="38.2" fill="none" stroke="#141c30" stroke-width="1.4"/>
<circle cx="153.8" cy="541.0" r="19.2" fill="#fff" stroke="#141c30" stroke-width="1.3"/>
<text x="153.8" y="543.9" font-size="8.0" text-anchor="middle" fill="#222" stroke="#222" stroke-width="0.2" >n=163</text>
<line x1="63.5" y1="500.8" x2="75.7" y2="500.8" stroke="#111" stroke-width="1.2" />
<text x="80.0" y="503.2" font-size="7.6" font-weight="bold" fill="#111" textLength="30.0" lengthAdjust="spacingAndGlyphs" >6 (3.7%)</text>
<line x1="164.6" y1="501.4" x2="175.7" y2="501.4" stroke="#111" stroke-width="1.2" />
<text x="180.5" y="503.7" font-size="7.6" font-weight="bold" fill="#111" textLength="30.3" lengthAdjust="spacingAndGlyphs" >9 (5.5%)</text>
<text x="9.3" y="596.6" font-size="11.4" font-weight="bold" fill="#111" >E</text>
<line x1="47.5" y1="603.3" x2="100" y2="603.3" stroke="#a3203f" stroke-width="1.2" />
<line x1="47.5" y1="600" x2="47.5" y2="607" stroke="#a3203f" stroke-width="1.2" />
<line x1="100" y1="600" x2="100" y2="607" stroke="#a3203f" stroke-width="1.2" />
<text x="63.8" y="598.8" font-size="7.4" fill="#222" stroke="#222" stroke-width="0.2" textLength="20.0" lengthAdjust="spacingAndGlyphs" >50 bp</text>
<line x1="20" y1="615.6" x2="390.5" y2="615.6" stroke="#111" stroke-width="1.3" />
<line x1="403" y1="615.6" x2="440" y2="615.6" stroke="#111" stroke-width="1.3" />
<line x1="32.5" y1="622" x2="39.5" y2="610.5" stroke="#111" stroke-width="1.1" />
<line x1="35.7" y1="622" x2="42.7" y2="610.5" stroke="#111" stroke-width="1.1" />
<line x1="391" y1="621.8" x2="398.5" y2="610.3" stroke="#111" stroke-width="1.1" />
<line x1="394.2" y1="621.8" x2="401.7" y2="610.3" stroke="#111" stroke-width="1.1" />
<rect x="419.1" y="609.8" width="11.2" height="10.5" fill="#6aaee2" />
<line x1="420.3" y1="598.8" x2="420.3" y2="603.9" stroke="#555" stroke-width="0.9" />
<text x="419.2" y="592.3" font-size="8.0" fill="#222" stroke="#222" stroke-width="0.2" textLength="66.2" lengthAdjust="spacingAndGlyphs" >chr11:33,903,433</text>
<text x="419.6" y="631.2" font-size="8.2" fill="#222" stroke="#222" stroke-width="0.2" textLength="28.3" lengthAdjust="spacingAndGlyphs" >EXON2</text>
<path d="M404.9 585.9 L404.9 574.2 L446 574.2" fill="none" stroke="#111" stroke-width="1.2"/>
<path d="M451.6 574.2 L445 571.4 L445 577.0 Z" fill="#111"/>
<line x1="41.8" y1="621" x2="41.8" y2="704" stroke="#1a1a1a" stroke-width="1.15" stroke-dasharray="3.6,1.6"/>
<line x1="388.2" y1="620" x2="388.2" y2="703" stroke="#1a1a1a" stroke-width="1.15" stroke-dasharray="3.6,1.6"/>
<line x1="46.5" y1="615.6" x2="46.5" y2="623.8" stroke="#1a1a1a" stroke-width="1.25" />
<text x="45.0" y="632.4" font-size="8.5" fill="#222" stroke="#222" stroke-width="0.2" >A8</text>
<text x="61.2" y="632.35" font-size="9.43" font-weight="bold" text-anchor="middle" fill="#111" stroke="#111" stroke-width="0.45">x</text>
<line x1="196.2" y1="607.9" x2="196.2" y2="615.6" stroke="#1a1a1a" stroke-width="1.25" />
<line x1="246.2" y1="615.6" x2="246.2" y2="624.6" stroke="#1a1a1a" stroke-width="1.25" />
<line x1="250.9" y1="607.1" x2="250.9" y2="676.4" stroke="#1a1a1a" stroke-width="1.25" />
<line x1="252.6" y1="615.6" x2="252.6" y2="641.8" stroke="#1a1a1a" stroke-width="1.25" />
<line x1="266.6" y1="615.6" x2="266.6" y2="624.0" stroke="#1a1a1a" stroke-width="1.25" />
<line x1="281.1" y1="580.0" x2="281.1" y2="615.6" stroke="#1a1a1a" stroke-width="1.25" />
<line x1="283.8" y1="607.8" x2="283.8" y2="655.6" stroke="#1a1a1a" stroke-width="1.25" />
<line x1="286.9" y1="615.6" x2="286.9" y2="633.4" stroke="#1a1a1a" stroke-width="1.25" />
<text x="254.2" y="576.6" font-size="8.5" text-anchor="end" fill="#222" stroke="#222" stroke-width="0.2" >P3</text>
<path d="M257.7 571.3000000000001 L263.0 574.0 L257.7 576.7 Z" fill="#9a1b3b"/>
<text x="254.2" y="585.3" font-size="8.5" text-anchor="end" fill="#222" stroke="#222" stroke-width="0.2" >P4</text>
<path d="M257.7 580.0 L263.0 582.6999999999999 L257.7 585.4 Z" fill="#9a1b3b"/>
<text x="254.2" y="594.5" font-size="8.5" text-anchor="end" fill="#222" stroke="#222" stroke-width="0.2" >P5</text>
<path d="M257.7 589.2 L263.0 591.9 L257.7 594.6 Z" fill="#9a1b3b"/>
<text x="254.2" y="603.1" font-size="8.5" text-anchor="end" fill="#222" stroke="#222" stroke-width="0.2" >DU.528</text>
<path d="M257.7 597.8000000000001 L263.0 600.5 L257.7 603.2 Z" fill="#9a1b3b"/>
<text x="202.9" y="594.5" font-size="8.5" text-anchor="end" fill="#222" stroke="#222" stroke-width="0.2" >A3</text>
<path d="M206.0 589.2 L211.3 591.9 L206.0 594.6 Z" fill="#9a1b3b"/>
<rect x="213.0" y="589.3" width="4.6" height="5.0" fill="#c4c4c6" />
<text x="202.9" y="603.1" font-size="8.5" text-anchor="end" fill="#222" stroke="#222" stroke-width="0.2" >A4</text>
<path d="M206.0 597.8000000000001 L211.3 600.5 L206.0 603.2 Z" fill="#9a1b3b"/>
<rect x="213.0" y="597.9" width="4.6" height="5.0" fill="#c4c4c6" />
<text x="280.2" y="576.6" font-size="8.5" fill="#222" stroke="#222" stroke-width="0.2" >P1</text>
<path d="M296.8 570.5 L300.3 574.0 L296.8 577.5 L293.3 574.0 Z" fill="#2b4b89"/>
<text x="284.5" y="603.1" font-size="8.5" fill="#222" stroke="#222" stroke-width="0.2" >A1</text>
<rect x="299.0" y="597.9" width="4.6" height="5.0" fill="#c4c4c6" />
<text x="237.9" y="631.4" font-size="8.5" text-anchor="end" fill="#222" stroke="#222" stroke-width="0.2" >PF-382</text>
<path d="M241.6 626.1 L246.9 628.8 L241.6 631.5 Z" fill="#9a1b3b"/>
<text x="261.2" y="631.6" font-size="8.5" fill="#222" stroke="#222" stroke-width="0.2" >P2</text>
<path d="M274.1 626.3000000000001 L279.40000000000003 629.0 L274.1 631.7 Z" fill="#9a1b3b"/>
<text x="285.2" y="640.4" font-size="8.5" fill="#222" stroke="#222" stroke-width="0.2" >A7</text>
<rect x="299.2" y="635.1999999999999" width="4.6" height="5.0" fill="#c4c4c6" />
<text x="285.2" y="648.8" font-size="8.5" fill="#222" stroke="#222" stroke-width="0.2" >A8</text>
<rect x="299.2" y="643.5999999999999" width="4.6" height="5.0" fill="#c4c4c6" />
<text x="285.2" y="662.3" font-size="8.5" fill="#222" stroke="#222" stroke-width="0.2" >A9</text>
<path d="M299.0 657.0 L304.3 659.6999999999999 L299.0 662.4 Z" fill="#9a1b3b"/>
<rect x="306.0" y="657.0999999999999" width="4.6" height="5.0" fill="#c4c4c6" />
<text x="252.9" y="648.8" font-size="8.5" fill="#222" stroke="#222" stroke-width="0.2" >P6</text>
<path d="M270.0 643.3000000000001 L273.3 646.6 L270.0 649.9 L266.7 646.6 Z" fill="#2b4b89"/>
<text x="252.9" y="658.0" font-size="8.5" fill="#222" stroke="#222" stroke-width="0.2" >A6</text>
<path d="M270.0 652.3000000000001 L273.3 655.6 L270.0 658.9 L266.7 655.6 Z" fill="#2b4b89"/>
<text x="252.9" y="666.6" font-size="8.5" fill="#222" stroke="#222" stroke-width="0.2" >A5</text>
<text x="269.8" y="666.96" font-size="9.84" font-weight="bold" text-anchor="middle" fill="#111" stroke="#111" stroke-width="0.45">x</text>
<text x="248.2" y="683.8" font-size="8.5" fill="#222" stroke="#222" stroke-width="0.2" >A2</text>
<path d="M262.0 678.5 L267.3 681.1999999999999 L262.0 683.9 Z" fill="#9a1b3b"/>
<rect x="410.3" y="658.8" width="4.6" height="5.0" fill="#c4c4c6" />
<text x="418.5" y="664.2" font-size="7.8" fill="#222" stroke="#222" stroke-width="0.2" textLength="19.2" lengthAdjust="spacingAndGlyphs" >ETS1</text>
<path d="M410.6 670.4000000000001 L415.90000000000003 673.1 L410.6 675.8000000000001 Z" fill="#9a1b3b"/>
<text x="418.5" y="675.7" font-size="7.8" fill="#222" stroke="#222" stroke-width="0.2" >MYB</text>
<path d="M412.6 681.3 L415.6 684.3 L412.6 687.3 L409.6 684.3 Z" fill="#2b4b89"/>
<text x="418.5" y="686.9" font-size="7.8" fill="#222" stroke="#222" stroke-width="0.2" >RUNX1</text>
<text x="412.6" y="697.62" font-size="7.38" font-weight="bold" text-anchor="middle" fill="#111" stroke="#111" stroke-width="0.45">x</text>
<text x="418.5" y="698.5" font-size="7.8" fill="#222" stroke="#222" stroke-width="0.2" >Unknown</text>
<line x1="42.6" y1="714.1" x2="389.2" y2="716.0" stroke="#1a1a1a" stroke-width="1.2" />
<rect x="47.7" y="698.7" width="6.5" height="31.0" fill="#2b4a85" />
<rect x="98.0" y="698.7" width="6.200000000000003" height="31.0" fill="#e9b823" />
<rect x="120.9" y="698.7" width="6.3999999999999915" height="31.0" fill="#e9b823" />
<rect x="228.3" y="698.7" width="7.5" height="31.0" fill="#c8c8cc" />
<rect x="260.9" y="698.7" width="7.7000000000000455" height="31.0" fill="#a8173a" />
<rect x="293.2" y="698.7" width="7.699999999999989" height="31.0" fill="#c8c8cc" />
<rect x="319.0" y="698.7" width="3.5" height="31.0" fill="#6aa84f" />
<rect x="364.6" y="698.7" width="3.3999999999999773" height="31.0" fill="#6aa84f" />
<rect x="378.5" y="698.7" width="3.3000000000000114" height="31.0" fill="#6aa84f" />
<text x="36.7" y="741.1" font-size="8.0" font-weight="bold" fill="#111" textLength="27.9" lengthAdjust="spacingAndGlyphs" >RUNX1</text>
<text x="100.8" y="741.1" font-size="8.0" font-weight="bold" fill="#111" textLength="23.4" lengthAdjust="spacingAndGlyphs" >EBOX</text>
<text x="221.3" y="741.1" font-size="8.0" font-weight="bold" fill="#111" textLength="21.2" lengthAdjust="spacingAndGlyphs" >ETS1</text>
<text x="255.4" y="741.1" font-size="8.0" font-weight="bold" fill="#111" textLength="19.1" lengthAdjust="spacingAndGlyphs" >MYB</text>
<text x="286.8" y="741.1" font-size="8.0" font-weight="bold" fill="#111" textLength="20.9" lengthAdjust="spacingAndGlyphs" >ETS1</text>
<text x="312.3" y="741.1" font-size="8.0" font-weight="bold" fill="#111" textLength="23.1" lengthAdjust="spacingAndGlyphs" >GATA</text>
<text x="362.5" y="741.1" font-size="8.0" font-weight="bold" fill="#111" textLength="22.7" lengthAdjust="spacingAndGlyphs" >GATA</text>
<text x="148.8" y="740.8" font-size="7.6" fill="#222" stroke="#222" stroke-width="0.2" textLength="57.5" lengthAdjust="spacingAndGlyphs" >&lt;Native motifs&gt;</text>
<rect x="0.7" y="0.75" width="518.4" height="748.3" fill="none" stroke="#000" stroke-width="1.6"/>
</svg></body></html>
